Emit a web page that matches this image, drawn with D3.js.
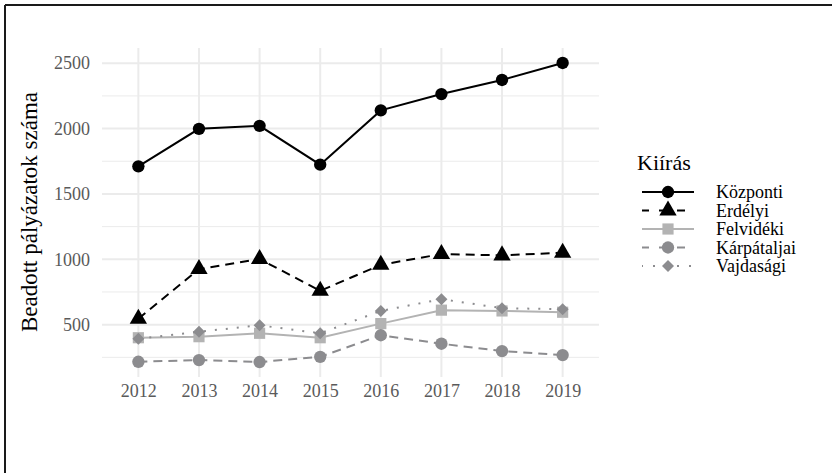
<!DOCTYPE html>
<html lang="hu">
<head>
<meta charset="utf-8">
<title>Beadott pályázatok száma</title>
<script src="https://cdn.jsdelivr.net/npm/d3@7"></script>
<style>
  body { margin: 0; background: #fff; }
  svg text { font-family: "Liberation Serif", "Times New Roman", serif; }
</style>
</head>
<body>
<script>
// adatok
var years = ['2012', '2013', '2014', '2015', '2016', '2017', '2018', '2019'];
var kozponti    = [1711, 1998, 2021, 1724, 2139, 2264, 2372, 2502];
var erdelyi     = [545, 925, 1002, 759, 958, 1040, 1030, 1050];
var felvideki   = [400, 408, 434, 400, 508, 611, 605, 595];
var karpataljai = [216, 229, 214, 254, 419, 354, 298, 267];
var vajdasagi   = [392, 446, 495, 434, 605, 695, 626, 618];
var yTicks = [500, 1000, 1500, 2000, 2500];
var yMinor = [250, 750, 1250, 1750, 2250];

var series = [
  {name: 'Központi',    values: kozponti,    color: '#000000', dash: null,  shape: 'circle'},
  {name: 'Erdélyi',     values: erdelyi,     color: '#000000', dash: '9,6', shape: 'triangle'},
  {name: 'Felvidéki',   values: felvideki,   color: '#b3b3b3', dash: null,  shape: 'square'},
  {name: 'Kárpátaljai', values: karpataljai, color: '#8c8c8f', dash: '9,6', shape: 'circle'},
  {name: 'Vajdasági',   values: vajdasagi,   color: '#8c8c8f', dash: '2,9', shape: 'diamond'}
];

var W = 832, H = 473;
var svg = d3.select('body').append('svg').attr('width', W).attr('height', H);

// keret
svg.append('line').attr('x1', 5).attr('y1', 5).attr('x2', W).attr('y2', 5)
  .attr('stroke', '#1a1a1a').attr('stroke-width', 2);
svg.append('line').attr('x1', 5).attr('y1', 5).attr('x2', 5).attr('y2', H)
  .attr('stroke', '#1a1a1a').attr('stroke-width', 2);

var x = d3.scalePoint().domain(years).range([102, 599]).padding(0.6);

var all = [].concat(kozponti, erdelyi, felvideki, karpataljai, vajdasagi);
var ext = d3.extent(all), pad = (ext[1] - ext[0]) * 0.05;
var y = d3.scaleLinear().domain([ext[0] - pad, ext[1] + pad]).range([377, 48]);

// racs
var grid = svg.append('g');
grid.selectAll('.minor').data(yMinor).enter().append('line')
  .attr('x1', 102).attr('x2', 599)
  .attr('y1', function(d) { return y(d); }).attr('y2', function(d) { return y(d); })
  .attr('stroke', '#ebebeb').attr('stroke-width', 1);
grid.selectAll('.major').data(yTicks).enter().append('line')
  .attr('x1', 102).attr('x2', 599)
  .attr('y1', function(d) { return y(d); }).attr('y2', function(d) { return y(d); })
  .attr('stroke', '#ebebeb').attr('stroke-width', 2);
grid.selectAll('.vert').data(years).enter().append('line')
  .attr('x1', function(d) { return x(d); }).attr('x2', function(d) { return x(d); })
  .attr('y1', 48).attr('y2', 377)
  .attr('stroke', '#ebebeb').attr('stroke-width', 2);

// tengelyek
var yAxis = svg.append('g').attr('transform', 'translate(102,0)')
  .call(d3.axisLeft(y).tickValues(yTicks).tickFormat(d3.format('d')).tickSize(0).tickPadding(12));
var xAxis = svg.append('g').attr('transform', 'translate(0,377)')
  .call(d3.axisBottom(x).tickSize(0).tickPadding(7));
[xAxis, yAxis].forEach(function(a) {
  a.attr('font-family', null).attr('font-size', null);
  a.select('.domain').remove();
  a.selectAll('text')
    .style('font-family', '"Liberation Serif", serif')
    .style('font-size', '18px')
    .attr('fill', '#5a5a5a');
});

svg.append('text')
  .attr('transform', 'translate(37,212) rotate(-90)')
  .attr('text-anchor', 'middle')
  .attr('font-size', 23)
  .attr('fill', '#000')
  .text('Beadott pályázatok száma');

function symbolFor(shape) {
  if (shape === 'circle') return d3.symbol().type(d3.symbolCircle).size(120);
  if (shape === 'triangle') return d3.symbol().type(d3.symbolTriangle).size(130);
  if (shape === 'square') return d3.symbol().type(d3.symbolSquare).size(125);
  return d3.symbol().type(d3.symbolSquare).size(72);
}
function rot(shape) { return shape === 'diamond' ? ' rotate(45)' : ''; }

var line = d3.line()
  .x(function(d, i) { return x(years[i]); })
  .y(function(d) { return y(d); });

var plot = svg.append('g');
series.forEach(function(s) {
  plot.append('path')
    .attr('d', line(s.values))
    .attr('fill', 'none')
    .attr('stroke', s.color)
    .attr('stroke-width', 2)
    .attr('stroke-dasharray', s.dash);
  plot.selectAll(null).data(s.values).enter().append('path')
    .attr('d', symbolFor(s.shape))
    .attr('transform', function(d, i) { return 'translate(' + x(years[i]) + ',' + y(d) + ')' + rot(s.shape); })
    .attr('fill', s.color);
});

// jelmagyarazat
var legend = svg.append('g');
legend.append('text').attr('x', 637).attr('y', 170)
  .attr('font-size', 22).attr('fill', '#000').text('Kiírás');

var row = legend.selectAll('.row').data(series).enter().append('g')
  .attr('transform', function(d, i) { return 'translate(0,' + (192 + i * 18.5) + ')'; });
row.append('line')
  .attr('x1', 642).attr('x2', 694).attr('y1', 0).attr('y2', 0)
  .attr('stroke', function(d) { return d.color; })
  .attr('stroke-width', 2)
  .attr('stroke-dasharray', function(d) { return d.dash ? (d.dash === '2,9' ? '2,10' : '8,10') : null; })
  .attr('stroke-dashoffset', function(d) { return d.dash ? 1 : 0; });
row.append('path')
  .attr('d', function(d) { return symbolFor(d.shape)(); })
  .attr('transform', function(d) { return 'translate(668,0)' + rot(d.shape); })
  .attr('fill', function(d) { return d.color; });
row.append('text')
  .attr('x', 716).attr('y', 6)
  .attr('font-size', 18).attr('fill', '#000')
  .text(function(d) { return d.name; });
</script>
</body>
</html>
